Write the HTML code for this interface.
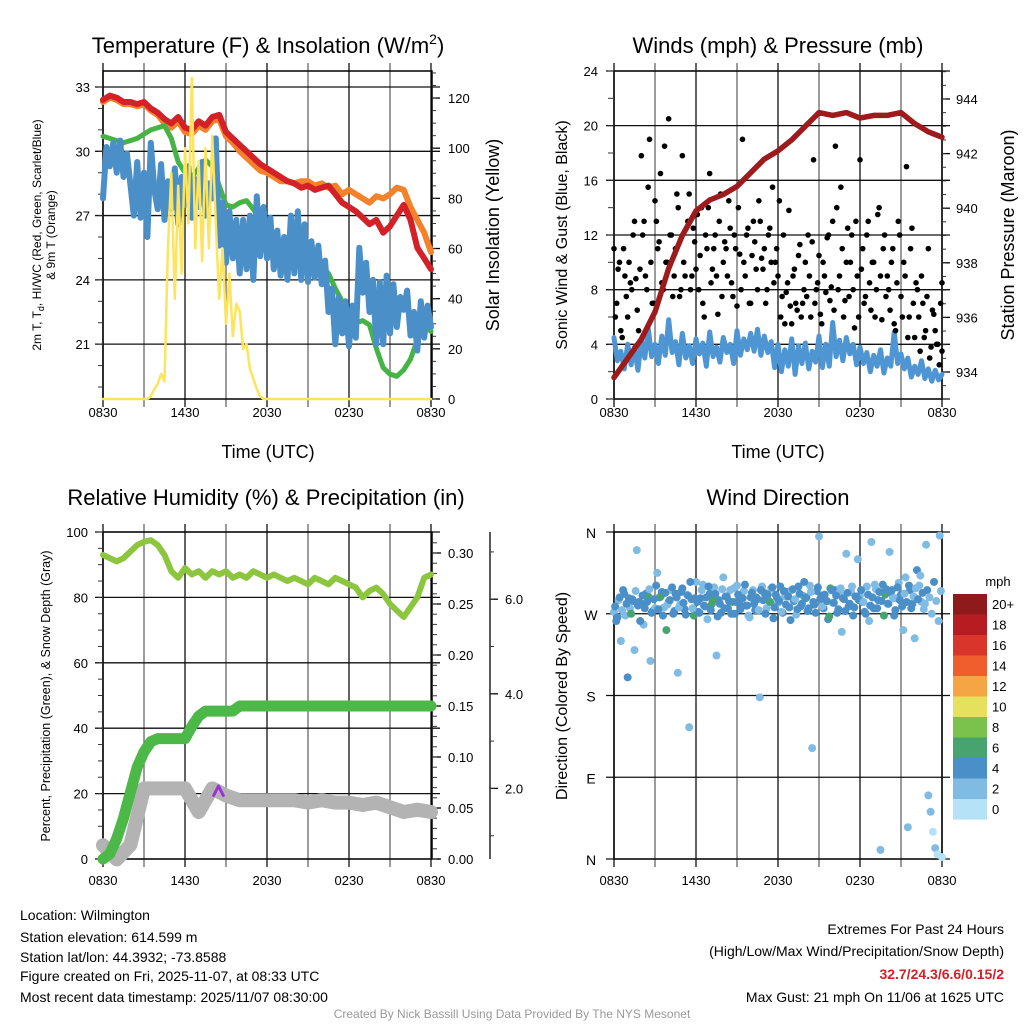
<!DOCTYPE html>
<html><head><meta charset="utf-8"><style>
html,body{margin:0;padding:0;background:#fff;}
svg{display:block;font-family:"Liberation Sans",sans-serif;}
</style></head><body>
<svg id="chart" width="1024" height="1024" viewBox="0 0 1024 1024" xmlns="http://www.w3.org/2000/svg">
<rect x="0" y="0" width="1024" height="1024" fill="#fff"/>
<g font-size="22" text-anchor="middle" fill="#000">
<text x="268" y="53">Temperature (F) &amp; Insolation (W/m<tspan font-size="14" dy="-9">2</tspan><tspan dy="9">)</tspan></text>
<text x="778" y="53">Winds (mph) &amp; Pressure (mb)</text>
<text x="266" y="505">Relative Humidity (%) &amp; Precipitation (in)</text>
<text x="778" y="505">Wind Direction</text>
</g>
<g fill="#000" text-anchor="middle">
<text x="268" y="458" font-size="18">Time (UTC)</text>
<text x="778" y="458" font-size="18">Time (UTC)</text>
<text font-size="12" transform="translate(41,235) rotate(-90)">2m T, T<tspan font-size="9" dy="3">d</tspan><tspan dy="-3">, HI/WC (Red, Green, Scarlet/Blue)</tspan></text>
<text font-size="12" transform="translate(55,235) rotate(-90)">&amp; 9m T (Orange)</text>
<text font-size="18" transform="translate(499,235) rotate(-90)">Solar Insolation (Yellow)</text>
<text font-size="16" transform="translate(567,235) rotate(-90)">Sonic Wind &amp; Gust (Blue, Black)</text>
<text font-size="18" transform="translate(1014,235) rotate(-90)">Station Pressure (Maroon)</text>
<text font-size="12.5" transform="translate(50,696) rotate(-90)">Percent, Precipitation (Green), &amp; Snow Depth (Gray)</text>
<text font-size="16" transform="translate(567,696) rotate(-90)">Direction (Colored By Speed)</text>
</g>
<g font-size="14" fill="#000">
<text x="20" y="920">Location: Wilmington</text>
<text x="20" y="942">Station elevation: 614.599 m</text>
<text x="20" y="962">Station lat/lon: 44.3932; -73.8588</text>
<text x="20" y="981">Figure created on Fri, 2025-11-07, at 08:33 UTC</text>
<text x="20" y="1002">Most recent data timestamp: 2025/11/07 08:30:00</text>
<text x="1004" y="934" text-anchor="end">Extremes For Past 24 Hours</text>
<text x="1004" y="956" text-anchor="end">(High/Low/Max Wind/Precipitation/Snow Depth)</text>
<text x="1004" y="979" text-anchor="end" fill="#d62027" font-weight="bold">32.7/24.3/6.6/0.15/2</text>
<text x="1004" y="1002" text-anchor="end">Max Gust: 21 mph On 11/06 at 1625 UTC</text>
<text x="512" y="1018" text-anchor="middle" font-size="12" fill="#999">Created By Nick Bassill Using Data Provided By The NYS Mesonet</text>
</g>
<g id="layer"></g>
</svg>
<script>
// ---------- data ----------
const timeTicks = ["0830","1430","2030","0230","0830"];
const tempRed = [32.4,32.6,32.5,32.3,32.3,32.2,32.3,32.0,31.8,31.5,31.3,31.6,31.1,31.0,31.4,31.2,31.6,31.7,30.9,30.6,30.3,30.0,29.7,29.4,29.2,29.0,28.8,28.6,28.5,28.3,28.4,28.2,28.3,28.4,28.0,27.6,27.4,27.2,26.9,26.6,26.8,26.2,26.5,27.0,27.5,26.8,25.5,25.0,24.5];
const tempOrange = [32.3,32.5,32.4,32.2,32.2,32.1,32.2,31.9,31.7,31.3,31.1,31.4,30.9,30.8,31.2,31.0,31.4,31.5,30.7,30.4,30.0,29.7,29.4,29.1,29.0,28.8,28.6,28.6,28.5,28.6,28.6,28.4,28.5,28.3,28.4,28.0,28.2,28.0,27.8,27.6,27.9,27.8,28.0,28.3,28.2,27.4,26.8,26.2,25.3];
const tempGreen = [30.7,30.6,30.5,30.4,30.5,30.6,30.8,31.0,31.1,31.2,30.6,29.5,29.0,28.8,29.2,29.6,29.3,28.4,27.5,27.4,27.6,27.7,27.3,26.8,26.5,26.0,25.2,24.8,24.6,24.7,24.5,24.8,24.6,24.3,23.6,23.0,22.3,22.0,22.1,21.9,20.8,19.9,19.6,19.5,19.8,20.3,21.2,21.8,21.6];
const tempBlue = [27.8,30.2,29.3,30.4,29.0,30.5,28.8,29.9,28.5,
27.0,29.5,26.9,29.0,26.0,30.4,28.2,27.3,
29.4,26.8,28.6,27.3,29.2,26.6,28.8,27.5,
29.3,26.9,28.7,27.4,29.5,27.0,28.5,27.8,
30.6,25.6,27.6,24.8,27.2,25.0,26.8,24.3,
26.8,24.5,27.0,24.0,27.9,25.1,27.4,25.0,
26.9,24.5,26.3,24.2,26.0,24.0,27.0,24.3,
27.2,24.0,26.6,23.9,25.8,24.1,25.6,23.8,
24.9,22.5,23.6,21.0,23.2,21.5,23.0,20.9,
22.8,21.3,25.5,23.4,24.8,22.5,24.0,21.0,
23.9,21.0,24.2,21.5,23.8,21.8,23.2,22.6,
23.5,21.4,22.5,20.7,23.0,21.3,22.8,21.8];
const solar = [0,0,0,0,0,0,0,0,0,0,0,0,0,0,1,4,6,10,7,60,90,40,85,50,100,70,128,60,95,55,100,60,105,70,40,60,30,50,25,38,35,20,22,12,8,4,1,0,0,0,0,0,0,0,0,0,0,0,0,0,0,0,0,0,0,0,0,0,0,0,0,0,0,0,0,0,0,0,0,0,0,0,0,0,0,0,0,0,0,0,0,0,0,0,0,0,0];
const tempTicks = [33,30,27,24,21];
const solarTicks = [0,20,40,60,80,100,120];

const pressure = [933.8,934.5,935.2,936.2,937.8,939.0,939.9,940.3,940.5,940.8,941.3,941.8,942.1,942.5,943.0,943.5,943.4,943.5,943.3,943.4,943.4,943.5,943.1,942.8,942.6];
const windSpeed = [4.5,2.8,3.5,2.2,4.0,2.5,3.8,2.1,4.3,3.0,5.2,3.1,4.0,2.6,4.6,3.2,5.8,3.4,4.2,2.5,4.8,3.0,3.9,2.6,4.4,3.3,4.1,2.4,4.9,3.1,3.8,2.7,4.5,3.4,4.0,2.6,5.0,3.2,4.4,3.6,4.8,3.5,5.1,3.2,4.6,3.4,4.2,2.3,4.0,2.0,3.6,2.4,4.4,1.8,3.9,2.6,4.1,2.2,3.5,2.7,4.6,2.3,4.0,2.4,5.6,3.1,4.3,2.8,4.5,3.3,4.0,2.5,3.8,2.6,3.4,2.0,3.2,2.4,3.6,1.9,3.0,2.4,4.9,2.6,3.3,2.2,3.0,1.6,2.4,1.8,2.8,1.5,2.2,1.3,2.1,1.4,1.8];
const gust = [11,7,10,4.5,9,6,8.5,12,8.8,5,17.8,13,8,19,7,14.5,11,16.5,8,10,20.5,12,9,15,7.5,17.8,9,13,8,12.5,9.5,8,14,6,11,16.5,9.5,12,6.2,15,10,11,14.5,8.5,12,6.8,10.6,19,9,12.5,7,13,9.5,14.5,10.3,11,8,12.5,15.5,10,9,6,12,7.8,13.8,5.5,9.5,6.5,11.3,7,10,12,6,17.5,8,10.5,5.5,9,11.8,7.2,13,18.5,8,15.5,6,10,7.5,12,5.2,9,17.5,11,7.5,13,6.5,10,8,14,5.8,12,9,6.5,11,5,13,7.5,10,17,6,12.5,4.5,8,3.5,7,5,11,3.8,6.2,4,2.5,8.5];
const gustB = [6,9.5,5,11,7.5,10,8,13,6.5,9.5,12,9,15.5,10,7,13,11.5,8.5,18.5,10,12,7.5,11,14,8,10,12.5,15,9,11.5,13.5,10.5,7,12,14,8.5,11,9,13,7.5,11.5,9,12.5,7.5,11,14,8,10,12,7,10.5,11.5,8,13,9.5,7,12,10,8.5,11,14.5,7.5,5.5,8.5,6.8,9,7,10.5,6,8,7.5,9,11.5,7,8.5,6.2,10,7.8,12,8.2,6.5,14,9,11,7.2,12.5,10,8,13,6,9.5,7,12,8.5,10,6,13.5,9,11,7.5,8,10,5.5,8.5,12,6,9,4.5,11,7,8.5,6,9,4.5,7.5,3,6.5,5,4,7,3.5];
const windTicks = [0,4,8,12,16,20,24];
const pressureTicks = [934,936,938,940,942,944];

const rh = [93,92,91,92,94,96,97,97.5,96,93,88,86,89,87,88,86,88,87,88,86,87,86,88,87,86,87,86,85,86,85,84,86,85,84,86,85,84,83,80,82,83,81,78,76,74,77,80,86,87];
const precip = [0,0.005,0.02,0.04,0.065,0.09,0.105,0.115,0.118,0.118,0.118,0.118,0.118,0.13,0.14,0.145,0.145,0.145,0.145,0.145,0.15,0.15,0.15,0.15,0.15,0.15,0.15,0.15,0.15,0.15,0.15,0.15,0.15,0.15,0.15,0.15,0.15,0.15,0.15,0.15,0.15,0.15,0.15,0.15,0.15,0.15,0.15,0.15,0.15];
const snow = [0.8,0.5,0.8,2.0,2.0,2.0,2.0,1.5,2.0,1.85,1.75,1.75,1.75,1.75,1.75,1.7,1.75,1.7,1.7,1.65,1.7,1.6,1.5,1.55,1.5];
const snowPurpleTimes = [8.1,8.45,8.8];
const snowPurple = [1.85,2.05,1.85];
const rhTicks = [0,20,40,60,80,100];
const precipTicks = ["0.00","0.05","0.10","0.15","0.20","0.25","0.30"];
const snowTicks = ["2.0","4.0","6.0"];

const windDir = [272,262,285,240,296,268,200,276,286,230,340,283,281,258,292,289,218,273,276,315,288,294,277,252,283,296,270,292,205,280,298,275,291,145,286,268,305,272,287,302,278,264,292,281,299,224,285,271,310,289,276,296,283,270,301,282,287,295,279,268,288,296,274,286,178,300,293,276,284,298,265,291,282,300,271,289,294,277,296,284,269,300,278,290,287,273,301,122,280,295,355,290,276,284,264,298,282,296,271,293,250,286,336,278,294,268,289,330,290,283,272,300,262,349,276,297,285,10,302,291,281,338,296,268,287,304,291,252,310,35,296,281,243,318,301,283,275,346,70,52,30,12,5,356,2];
const windDirSpeed = [3,4.5,3,2.5,5,3.5,4.5,2.5,4,3,2.5,5,4,3,4.5,6.5,3,4,3,2.5,5,4.5,3.5,6.5,4,3,5,4.5,2.5,3,4,5,3.5,2.5,4.5,6.5,3,4,5,3,4.5,3.5,4,6.5,3,2.5,5,4,3,4.5,5,3.5,6.5,4,3,4.5,5,2.5,4,3.5,4.5,3,5,4,2.5,3,4.5,3.5,5,3,4,4.5,3,5,4,3.5,4.5,5,3,4,2.5,5,4.5,3.5,6.5,4,3,2.5,5,4.5,2.5,4,5,3,4.5,6.5,3,4.5,5,3.5,2.5,4,2.5,4,3,5,4.5,3,3.5,4.5,5,3,3.5,2.5,4,3,5,2.5,4.5,6.5,3.5,2.5,4,5,3.5,3,4,3.5,3,2.5,4.5,5,3,4,2.5,3.5,3,2.5,2.5,3,1.5,3,1.5,2.5,1.5];
const windDirB = [278,266,288,274,292,281,287,270,284,295,279,262,
290,276,283,297,271,286,301,275,289,268,293,280,
285,299,273,288,277,294,282,269,290,305,276,287,
283,271,296,279,288,300,274,285,292,267,281,297,
276,289,284,270,298,283,291,275,287,302,279,266,
293,281,288,274,296,285,270,291,283,299,277,288,
284,272,295,280,289,263,297,286,275,292,281,305,
288,276,294,283,271,299,286,278,291,284,267,296,
282,290,275,298,287,273,293,281,300,277,289,285,
296,283,270,291,279,288,302,276,294,284,268,297,
281,293,287,274,299,285,278,292,283,301,276,289,
298,286,312,293,281,296,288,270,305,284,262,295];
const windDirSpeedB = [4.5,5,4,3,5.5,4.5,4,6.5,5,3.5,4.5,5,
5,4,4.5,3,5.5,4,5,4.5,6.5,4,5,3.5,
4,5,4.5,5.5,3,4.5,5,4,5.5,4.5,3.5,5,
4.5,5,3,4.5,5.5,4,5,6.5,4,4.5,5,3.5,
5,4.5,4,5.5,3,4.5,5,4,5.5,4.5,5,3,
4,5,4.5,3.5,5,4.5,5.5,4,6.5,4.5,5,4,
4.5,3,5,4.5,5.5,4,5,3.5,4.5,5,4,5.5,
5,4.5,3.5,5,4,5.5,4.5,3,5,4,6.5,4.5,
4,5,4.5,3.5,5.5,4,5,4.5,3,5,4.5,4,
5,3.5,4.5,5,4,5.5,3,4.5,5,4,6.5,4.5,
4.5,5,3.5,4,5.5,4.5,5,3,4.5,5,4,3.5,
3,4.5,3.5,5,3,4,3.5,2.5,4,3,2.5,3.5];
const dirTicks = ["N","W","S","E","N"];
const dirTickValues = [360,270,180,90,0];
const cbLabels = ["20+","18","16","14","12","10","8","6","4","2","0"];
const cbColors = ["#8e1a1b","#b81c23","#d9352b","#ef5e2c","#f6a545","#e5e15c","#7bc24c","#48a46e","#4a8fc7","#80bbe4","#b6e2f8"];

// ---------- helpers ----------
const NS = "http://www.w3.org/2000/svg";
const layer = document.getElementById("layer");
function mk(tag, attrs, parent){
  const el = document.createElementNS(NS, tag);
  for (const k in attrs) el.setAttribute(k, attrs[k]);
  (parent||layer).appendChild(el);
  return el;
}
function grp(name){
  const g = mk("g", {});
  
  
  return g;
}
function line(g, x1,y1,x2,y2, stroke, w, name){
  const el = mk("line", {x1:x1,y1:y1,x2:x2,y2:y2,stroke:stroke,"stroke-width":w}, g);
  
  
  return el;
}
function text(g, x,y, s, size, anchor, name, fill){
  const el = mk("text", {x:x,y:y,"font-size":size,"text-anchor":anchor||"middle",fill:fill||"#000"}, g);
  el.textContent = s;
  
  
  return el;
}
function poly(g, pts, stroke, w, name){
  const el = mk("polyline", {points:pts.map(p=>p[0].toFixed(1)+","+p[1].toFixed(1)).join(" "),fill:"none",stroke:stroke,"stroke-width":w,"stroke-linejoin":"round","stroke-linecap":"round"}, g);
  
  
  return el;
}
function dot(g, x,y,r,fill,name){
  const el = mk("circle", {cx:x,cy:y,r:r,fill:fill}, g);
  
  
  return el;
}
function hoursOf(arr){ const n = arr.length-1; return arr.map((v,i)=>i*24/n); }

// axis functions
const xL = h => 103 + h*328/24;
const xR = h => 614 + h*328/24;
const yTemp = t => 87 + (33 - t)*21.43;
const ySolar = s => 399 - s*2.508;
const yWind = s => 399 - s*13.667;
const yPres = p => 372 - (p - 934)*27.3;
const yRH = v => 859 - v*3.27;
const yPrecip = v => 859 - v*1020;
const ySnow = v => 883 - v*47.3;
const yDir = d => 859 - d*327/360;

function frame(g, x0, y0, x1, y1, xfun, prefix, labOff){
  for (let k=0;k<=8;k++){
    const x = xfun(k*3);
    line(g, x, y0-8, x, y1+8, k%2? "#666":"#111", 1.3, prefix+"-vgrid");
  }
  for (let k=0;k<timeTicks.length;k++){
    text(g, xfun(k*6), y1+labOff, timeTicks[k], 13, "middle", prefix+"-x-tick-label");
  }
  const r = mk("rect",{x:x0,y:y0,width:x1-x0,height:y1-y0,fill:"none",stroke:"#000","stroke-width":1.5},g);
  
  
}

// ---------- panel 1 ----------
{
  const g = grp("temperature-panel");
  frame(g, 103, 71, 432, 399, xL, "p1", 18);
  for (const t of tempTicks){
    line(g, 95, yTemp(t), 440, yTemp(t), "#111", 1.3, "p1-hgrid");
    text(g, 90, yTemp(t)+5, String(t), 13, "end", "p1-y-tick-label");
  }
  for (let t=19;t<=33;t++) line(g, 98, yTemp(t), 103, yTemp(t), "#333", 1, "p1-y-minor-tick");
  for (const s of solarTicks){
    line(g, 432, ySolar(s), 440, ySolar(s), "#000", 1.3, "p1-right-tick");
    text(g, 448, ySolar(s)+5, String(s), 13, "start", "p1-right-tick-label");
  }
  for (let s=0;s<=130;s+=5) line(g, 432, ySolar(s), 436, ySolar(s), "#333", 1, "p1-right-minor-tick");
  const h49 = hoursOf(tempRed), h97 = hoursOf(tempBlue);
  poly(g, tempOrange.map((v,i)=>[xL(h49[i]), yTemp(v)]), "#f4822b", 6, "temp-9m-orange-line");
  poly(g, tempRed.map((v,i)=>[xL(h49[i]), yTemp(v)]), "#d42027", 6, "temp-2m-red-line");
  poly(g, tempGreen.map((v,i)=>[xL(h49[i]), yTemp(v)]), "#46b445", 5, "dewpoint-green-line");
  poly(g, tempBlue.map((v,i)=>[xL(h97[i]), yTemp(v)]), "#4a8fc8", 6, "windchill-blue-line");
  const hs = hoursOf(solar);
  poly(g, solar.map((v,i)=>[xL(hs[i]), ySolar(v)]), "#fde45c", 2.5, "solar-yellow-line");
}

// ---------- panel 2 ----------
{
  const g = grp("winds-panel");
  frame(g, 614, 71, 942, 399, xR, "p2", 18);
  for (const s of windTicks){
    line(g, 606, yWind(s), 950, yWind(s), "#111", 1.3, "p2-hgrid");
    text(g, 598, yWind(s)+5, String(s), 13, "end", "p2-y-tick-label");
  }
  for (let s=0;s<=24;s+=2) line(g, 608, yWind(s), 614, yWind(s), "#333", 1, "p2-y-minor-tick");
  for (const p of pressureTicks){
    line(g, 942, yPres(p), 950, yPres(p), "#000", 1.3, "p2-right-tick");
    text(g, 956, yPres(p)+5, String(p), 13, "start", "p2-right-tick-label");
  }
  for (let p=933.5;p<=945;p+=0.5) line(g, 942, yPres(p), 946, yPres(p), "#333", 1, "p2-right-minor-tick");
  const hw = hoursOf(windSpeed);
  poly(g, windSpeed.map((v,i)=>[xR(hw[i]), yWind(v)]), "#4e96d3", 5, "sonic-wind-blue-line");
  const hg = hoursOf(gust);
  gust.forEach((v,i)=>dot(g, xR(hg[i]), yWind(v), 2.8, "#000", "gust-dot"));
  gustB.forEach((v,i)=>dot(g, xR(Math.min(24, hg[i]+0.1)), yWind(v), 2.8, "#000", "gust-dot"));
  const hp = hoursOf(pressure);
  poly(g, pressure.map((v,i)=>[xR(hp[i]), yPres(v)]), "#9e1b1d", 5.5, "pressure-maroon-line");
}

// ---------- panel 3 ----------
{
  const g = grp("humidity-panel");
  frame(g, 103, 532, 432, 859, xL, "p3", 26);
  for (const v of rhTicks){
    line(g, 95, yRH(v), 440, yRH(v), "#111", 1.3, "p3-hgrid");
    text(g, 88, yRH(v)+5, String(v), 13, "end", "p3-y-tick-label");
  }
  for (let v=0;v<=100;v+=5) line(g, 98, yRH(v), 103, yRH(v), "#333", 1, "p3-y-minor-tick");
  precipTicks.forEach(s=>{
    const v = parseFloat(s);
    line(g, 432, yPrecip(v), 441, yPrecip(v), "#000", 1.3, "p3-precip-tick");
    text(g, 448, yPrecip(v)+5, s, 13, "start", "p3-precip-tick-label");
  });
  for (let v=0;v<=0.32;v+=0.01) line(g, 432, yPrecip(v), 437, yPrecip(v), "#333", 1, "p3-precip-minor-tick");
  line(g, 490, 532, 490, 859, "#000", 1.3, "p3-snow-axis-line");
  snowTicks.forEach(s=>{
    const v = parseFloat(s);
    line(g, 490, ySnow(v), 498, ySnow(v), "#000", 1.3, "p3-snow-tick");
    text(g, 505, ySnow(v)+5, s, 13, "start", "p3-snow-tick-label");
  });
  for (let v=1;v<=7;v+=1) line(g, 490, ySnow(v), 494, ySnow(v), "#333", 1, "p3-snow-minor-tick");
  const hsn = hoursOf(snow);
  poly(g, snow.map((v,i)=>[xL(hsn[i]), ySnow(v)]), "#b3b3b3", 14, "snow-depth-gray-line");
  poly(g, snowPurple.map((v,i)=>[xL(snowPurpleTimes[i]), ySnow(v)]), "#9b30d9", 3, "snow-depth-purple-segment");
  const hpr = hoursOf(precip);
  poly(g, precip.map((v,i)=>[xL(hpr[i]), yPrecip(v)]), "#4cb848", 11, "precip-green-line");
  const hrh = hoursOf(rh);
  poly(g, rh.map((v,i)=>[xL(hrh[i]), yRH(v)]), "#8cc63f", 6, "rh-lightgreen-line");
}

// ---------- panel 4 ----------
{
  const g = grp("direction-panel");
  frame(g, 614, 532, 942, 859, xR, "p4", 26);
  dirTicks.forEach((s,k)=>{
    const y = yDir(dirTickValues[k]);
    line(g, 606, y, 950, y, "#111", 1.3, "p4-hgrid");
    text(g, 591, y+6, s, 14, "middle", "p4-y-tick-label");
  });
  const hd = hoursOf(windDir);
  windDir.forEach((d,i)=>{
    const bin = Math.min(10, Math.floor(windDirSpeed[i]/2));
    dot(g, xR(hd[i]), yDir(d), 4, cbColors[10-bin], "direction-dot");
  });
  windDirB.forEach((d,i)=>{
    const bin = Math.min(10, Math.floor(windDirSpeedB[i]/2));
    dot(g, xR(hd[i]+1/12), yDir(d), 4, cbColors[10-bin], "direction-dot");
  });
  const cb = grp("speed-colorbar");
  text(cb, 998, 586, "mph", 13, "middle", "colorbar-title");
  cbColors.forEach((c,k)=>{
    const r = mk("rect",{x:953,y:594+k*20.5,width:34,height:20.6,fill:c},cb);
    
    
    text(cb, 992, 594+k*20.5+15, cbLabels[k], 13, "start", "colorbar-label");
  });
}
</script>
</body></html>
